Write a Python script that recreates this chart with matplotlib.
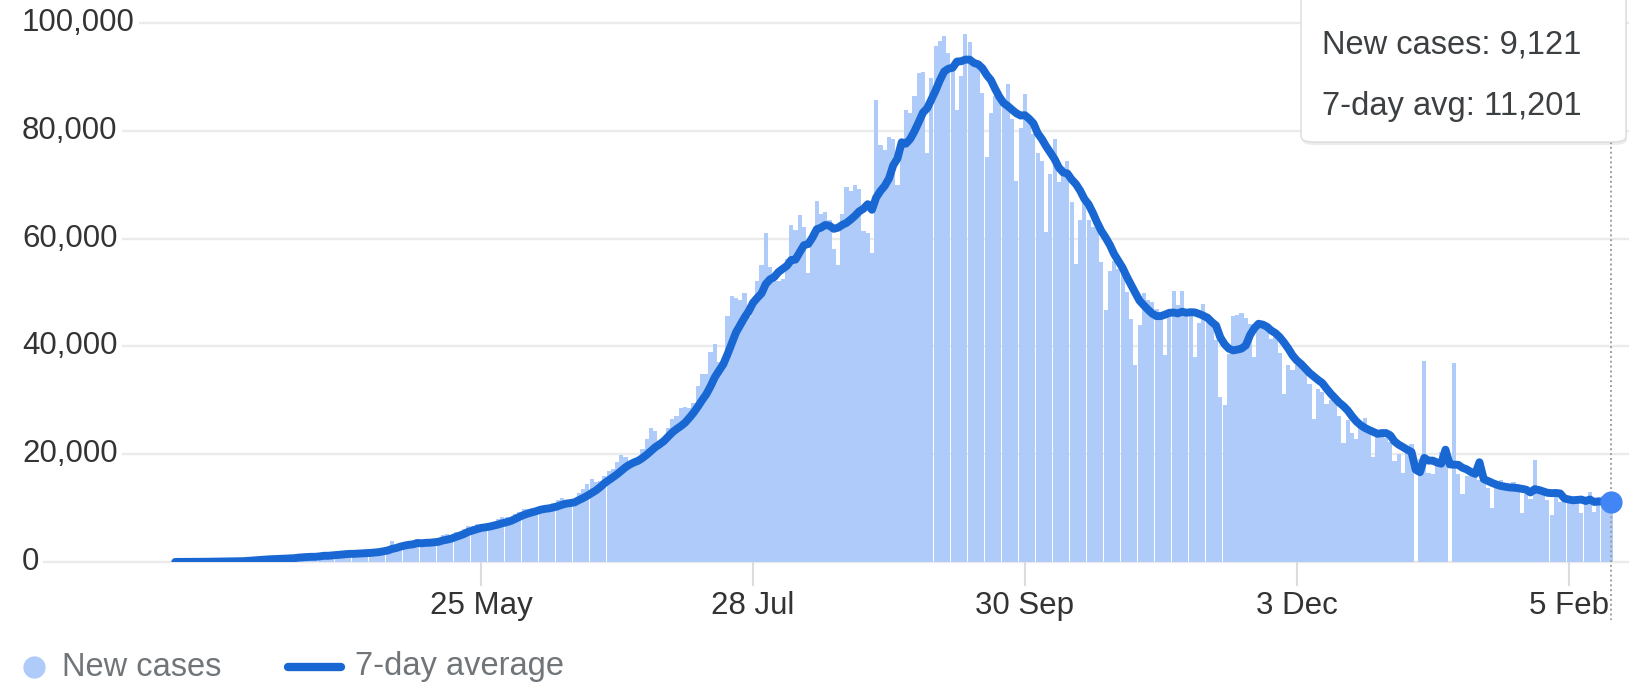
import numpy as np
import pandas as pd
import matplotlib
matplotlib.use("Agg")
import matplotlib.pyplot as plt
import matplotlib.dates as mdates
import matplotlib.transforms as mtransforms
from matplotlib.lines import Line2D
from matplotlib.patches import FancyBboxPatch

plt.rcParams["font.family"] = ["Liberation Sans", "DejaVu Sans"]

# ============================================================
# ======================== DATA ==============================
# ============================================================

START_DATE = "2020-03-14"

# daily new cases, one list per month (Mar 14 2020 .. Feb 15 2021)
cases_mar = [11, 16, 19, 21, 27, 58, 78, 69, 94, 74, 86, 73, 153, 136, 120, 187, 309, 424]
cases_apr = [486, 560, 579, 609, 484, 573, 565, 813, 871, 854, 758, 1243, 1031, 886, 1061,
             922, 1371, 1580, 1239, 1537, 1292, 1667, 1408, 1835, 1607, 1568, 1902, 1705, 1801, 1993]
cases_may = [2293, 2644, 2573, 3900, 2958, 3561, 3390, 3320, 3277, 4213, 3604, 3525, 3722, 3967, 3970,
             4987, 5242, 4970, 5611, 5609, 6088, 6654, 6767, 6977, 6535, 6387, 6566, 7466, 7964, 8380, 8392]
cases_jun = [8171, 8909, 9304, 9851, 9887, 9971, 9983, 9987, 9985, 9996, 10956, 11458, 11929, 11502, 10667,
             10974, 12881, 13586, 14516, 15413, 14821, 14933, 15968, 16922, 17296, 18552, 19906, 19459, 18522, 18653]
cases_jul = [19148, 20903, 22771, 24850, 24248, 22252, 22752, 24879, 26506, 27114, 28637, 28701, 28498, 29429, 32695,
             34956, 34884, 38902, 40425, 37148, 37724, 45720, 49310, 48916, 48661, 49931, 45500, 48513, 52123, 55079, 61100]
cases_aug = [54735, 52972, 52050, 52509, 56282, 62538, 61537, 64399, 62064, 53601, 60963, 66999, 64553, 65002, 63490,
             57981, 55079, 64531, 69652, 68898, 69878, 69239, 61408, 60975, 57300, 85700, 77266, 76472, 78761, 78512, 69921]
cases_sep = [78357, 83883, 83341, 86432, 90632, 90802, 75809, 89706, 95735, 96551, 97570, 94372, 92071, 83809, 90123,
             97894, 96424, 93337, 92605, 86961, 75083, 83347, 86508, 86052, 85362, 88600, 82170, 70589, 80472, 86821]
cases_oct = [81484, 79476, 75829, 74442, 61267, 72049, 78524, 70496, 73272, 74383, 66732, 55342, 63509, 67708, 63371,
             62212, 61871, 55722, 46790, 54044, 55838, 54366, 53370, 50129, 45148, 36470, 43893, 49881, 48648, 48268, 46963]
cases_nov = [45231, 38310, 46253, 50210, 47638, 50356, 45674, 45903, 38073, 44281, 47905, 44879, 44878, 41100, 30548,
             29163, 38617, 45576, 45882, 46232, 45209, 44059, 37975, 44376, 44489, 43082, 41322, 41810, 38772, 31118]
cases_dec = [36604, 35551, 36595, 36652, 36011, 32981, 26567, 32080, 31521, 29398, 30006, 30254, 27071, 22065, 26382,
             24010, 22890, 25152, 26624, 24337, 19556, 23950, 24712, 23067, 22273, 18732, 20021, 16432, 20549, 21822, 0]
cases_jan = [19078, 37300, 16505, 16375, 18088, 20346, 18139, 0, 36900, 16311, 12584, 15968, 16946, 15590, 15158,
             15144, 13788, 10064, 13823, 15223, 14545, 14256, 14849, 13203, 9102, 12689, 11666, 18855, 13083, 13052, 11427]
cases_feb = [8635, 12899, 11039, 12408, 11713, 12059, 11831, 9110, 11067, 12923, 9309, 12143, 12194, 11649, 9121]

tick_dates = ["2020-05-25", "2020-07-28", "2020-09-30", "2020-12-03", "2021-02-05"]
y_ticks = [0, 20000, 40000, 60000, 80000, 100000]

BAR_COLOR = "#aecbfa"
LINE_COLOR = "#1967d2"
DOT_COLOR = "#4285f4"
GRID_COLOR = "#ebebeb"

# ============================================================
# ======================== PLOT ==============================
# ============================================================

W, H = 1629, 687


def fx(px):
    return px / W


def fy(py):
    # py measured from the top of the image
    return 1 - py / H


def main():
    new_cases = np.array(cases_mar + cases_apr + cases_may + cases_jun + cases_jul + cases_aug +
                         cases_sep + cases_oct + cases_nov + cases_dec + cases_jan + cases_feb)
    dates = pd.date_range(START_DATE, periods=len(new_cases), freq="D")
    series = pd.Series(new_cases, index=dates)
    avg = series.rolling(7, min_periods=1).mean()

    fig = plt.figure(figsize=(W / 100, H / 100), dpi=100)
    base_px, top_px = 562, 22.9
    ax = fig.add_axes([0, fy(base_px), 1, (base_px - top_px) / H])
    ax.set_axis_off()

    x0 = mdates.date2num(dates[0])
    ax.set_xlim(x0 - 41.25, x0 + 342.2)
    ax.set_ylim(0, 100000)

    ax.bar(dates, new_cases, width=0.97, color=BAR_COLOR, linewidth=0, zorder=2)
    ax.plot(dates, avg.values, color=LINE_COLOR, lw=5.7, solid_capstyle="round",
            solid_joinstyle="round", zorder=4)

    # gridlines start right after each y label
    fig_y = mtransforms.blended_transform_factory(fig.transFigure, ax.transData)
    renderer = fig.canvas.get_renderer()
    for v in y_ticks:
        t = fig.text(fx(22), 0, f"{v:,}", transform=fig_y, fontsize=22.5,
                     color="#333333", ha="left", va="center")
        t.set_y(v)
        bb = t.get_window_extent(renderer)
        ax.plot([(bb.x1 + 4) / W, 1.0], [v, v], transform=fig_y, color=GRID_COLOR,
                lw=1.7, zorder=0.5, clip_on=False, solid_capstyle="butt")

    # x ticks
    x_fig = mtransforms.blended_transform_factory(ax.transData, fig.transFigure)
    for d in pd.to_datetime(tick_dates):
        xd = mdates.date2num(d)
        ax.plot([xd, xd], [fy(563), fy(585)], transform=x_fig, color="#dadce0",
                lw=1.5, clip_on=False, zorder=0.5)
        ax.text(xd, fy(606), f"{d.day} {d.strftime('%b')}", transform=x_fig,
                fontsize=22.5, color="#333333", ha="center", va="center")

    # hover marker on the last day
    last = mdates.date2num(dates[-1])
    ax.plot([last, last], [fy(142), fy(620)], transform=x_fig, color="#9e9e9e",
            lw=1.4, ls=(0, (1, 1.5)), clip_on=False, zorder=3)
    ax.plot([dates[-1]], [avg.values[-1]], marker="o", ms=15, color=DOT_COLOR,
            mec=DOT_COLOR, clip_on=False, zorder=5)

    # tooltip
    bx0, bx1, by0, by1 = 1301, 1626, -12, 142
    shadow = FancyBboxPatch((fx(bx0 + 1), fy(by1 + 3)), fx(bx1 - bx0), (by1 - by0) / H,
                            boxstyle="round,pad=0,rounding_size=0.008",
                            transform=fig.transFigure, facecolor=(0, 0, 0, 0.08),
                            edgecolor="none", zorder=6)
    box = FancyBboxPatch((fx(bx0), fy(by1)), fx(bx1 - bx0), (by1 - by0) / H,
                         boxstyle="round,pad=0,rounding_size=0.008",
                         transform=fig.transFigure, facecolor="white",
                         edgecolor="#dcdcdc", lw=1, zorder=7)
    fig.patches.extend([shadow, box])
    fig.text(fx(1322), fy(45), f"New cases: {new_cases[-1]:,}", fontsize=23.5,
             color="#3c4043", ha="left", va="center", zorder=8)
    fig.text(fx(1322), fy(106), f"7-day avg: {avg.values[-1]:,.0f}", fontsize=23.5,
             color="#3c4043", ha="left", va="center", zorder=8)

    # legend
    ly = fy(667)
    fig.lines.append(Line2D([fx(34)], [ly], marker="o", ms=15, color=BAR_COLOR,
                            transform=fig.transFigure))
    fig.text(fx(62), ly, "New cases", fontsize=23.5, color="#70757a",
             ha="left", va="center")
    fig.lines.append(Line2D([fx(288), fx(341)], [ly, ly], lw=6, color=LINE_COLOR,
                            solid_capstyle="round", transform=fig.transFigure))
    fig.text(fx(355), ly, "7-day average", fontsize=23.5, color="#70757a",
             ha="left", va="center")

    fig.savefig("out.png", dpi=100)


if __name__ == "__main__":
    main()
